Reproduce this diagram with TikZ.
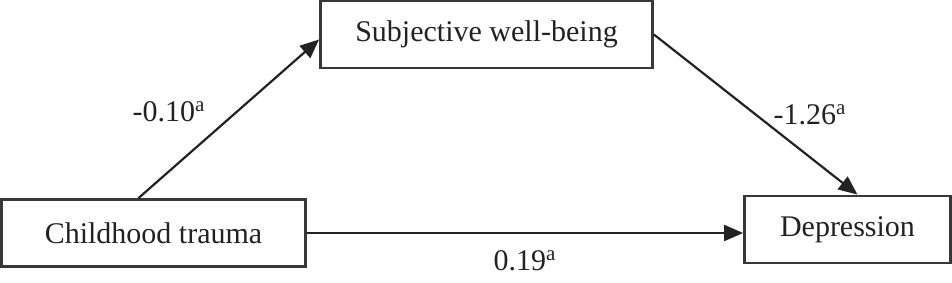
\documentclass[tikz,border=0pt]{standalone}
\usepackage{fontspec}
\setmainfont{Liberation Serif}
\usepackage{tikz}
\usetikzlibrary{positioning,arrows.meta,calc}
\definecolor{ink}{HTML}{222222}
\tikzset{->,>={Triangle[length=9.5pt,width=8pt]},
x=0.5pt,y=-0.5pt,
font=\fontsize{15}{18}\selectfont,
el/.style={text=ink,inner sep=0pt},
var/.style={rectangle,draw=ink!90,line width=1.4pt,text=ink,inner sep=0pt,minimum height=33.5pt},
}

\begin{document}
\begin{tikzpicture}[line width=1.1pt]
	\useasboundingbox (0,0) rectangle (952,283);
	\node[var,minimum width=152pt] (trauma) at (153.5,233) {Childhood trauma};
	\node[var,minimum width=166pt] (swb) at (486.5,34.5) {Subjective well-being};
	\node[var,minimum width=103pt] (dep) at (847.5,229.5) {Depression};

	\node[el] (a) at (169,112) {-0.10\textsuperscript{a}};
	\node[el] (b) at (810,115) {-1.26\textsuperscript{a}};
	\node[el] (c) at (525,261) {0.19\textsuperscript{a}};

	\path[color=ink]
	([xshift=-7.5pt]trauma.north) edge ([yshift=-2.5pt]swb.west)
	(swb.east) edge ([xshift=5pt]dep.north)
	(trauma.east) edge (trauma.east -| dep.west)
	;
\end{tikzpicture}
\end{document}
